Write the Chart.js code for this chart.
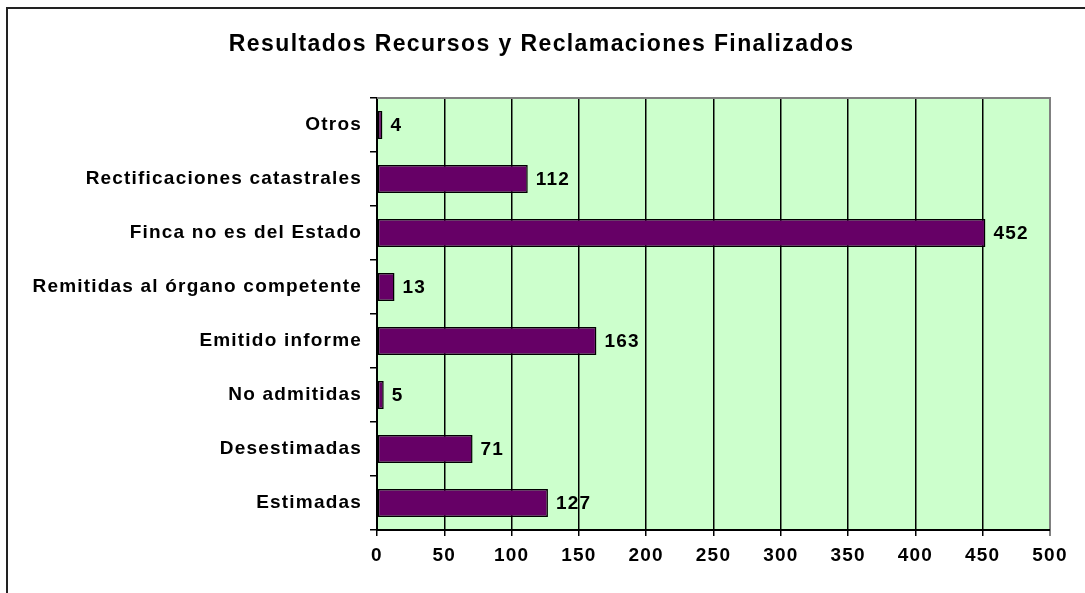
<!DOCTYPE html>
<html><head><meta charset="utf-8">
<script src="https://cdn.jsdelivr.net/npm/chart.js@4.4.1/dist/chart.umd.min.js"></script>
<style>html,body{margin:0;padding:0;background:#fff;}#wrap{width:1085px;height:593px;}</style>
</head><body><div id="wrap"><canvas id="c" width="1085" height="593"></canvas></div>
<script>
const categories = ["Otros","Rectificaciones catastrales","Finca no es del Estado","Remitidas al órgano competente","Emitido informe","No admitidas","Desestimadas","Estimadas"];
const values = [4,112,452,13,163,5,71,127];
const titleText = "Resultados Recursos y Reclamaciones Finalizados";
const xMin = 0, xMax = 500, xStep = 50;

const FONT = "'Liberation Sans', Arial, sans-serif";
const LS_TEXT = '1.2px';
const LS_TITLE = '1.4px';

const framePlugin = {
  id: 'frame',
  beforeDraw(chart) {
    const ctx = chart.ctx;
    const a = chart.chartArea;
    ctx.save();
    ctx.fillStyle = '#CCFFCC';
    ctx.fillRect(a.left, a.top, a.right - a.left, a.bottom - a.top);
    ctx.letterSpacing = LS_TITLE;
    ctx.font = 'bold 23px ' + FONT;
    ctx.fillStyle = '#000';
    ctx.textAlign = 'center';
    ctx.textBaseline = 'middle';
    ctx.fillText(titleText, 541 + 0.7, 45);
    ctx.restore();
    ctx.letterSpacing = LS_TEXT;
  },
  afterDraw(chart) {
    const ctx = chart.ctx;
    const a = chart.chartArea;
    ctx.save();
    ctx.strokeStyle = '#808080';
    ctx.lineWidth = 2;
    ctx.beginPath();
    ctx.moveTo(a.left, a.top); ctx.lineTo(a.right + 1, a.top);
    ctx.stroke();
    ctx.strokeStyle = '#222';
    ctx.lineWidth = 2;
    ctx.strokeRect(7, 8, 1200, 700);
    ctx.restore();
  }
};

const labelPlugin = {
  id: 'vlabels',
  afterDatasetsDraw(chart) {
    const ctx = chart.ctx;
    const meta = chart.getDatasetMeta(0);
    ctx.save();
    ctx.letterSpacing = LS_TEXT;
    ctx.font = 'bold 19px ' + FONT;
    ctx.fillStyle = '#000';
    ctx.textAlign = 'left';
    ctx.textBaseline = 'middle';
    meta.data.forEach((el, i) => {
      ctx.fillText(String(values[i]), el.x + 8, el.y + 1);
    });
    ctx.restore();
  }
};

new Chart(document.getElementById('c'), {
  type: 'bar',
  data: {
    labels: categories,
    datasets: [{
      data: values,
      backgroundColor: '#660066',
      borderColor: '#000000',
      borderWidth: 1.5,
      borderSkipped: false,
      categoryPercentage: 1,
      barPercentage: 0.52
    }]
  },
  options: {
    indexAxis: 'y',
    responsive: false,
    animation: false,
    devicePixelRatio: 1,
    layout: { padding: { left: 0, right: 35, top: 98, bottom: 0 } },
    plugins: {
      legend: { display: false },
      tooltip: { enabled: false },
      title: { display: false }
    },
    scales: {
      x: {
        min: xMin, max: xMax,
        ticks: { stepSize: xStep, color: '#000', font: { family: FONT, size: 19, weight: 'bold' }, padding: 8 },
        grid: {
          color: (c) => c.tick && c.tick.value === xMax ? '#808080' : '#000',
          lineWidth: (c) => c.tick && c.tick.value === xMax ? 2 : 1.5,
          tickLength: 6,
          drawTicks: true
        },
        border: { color: '#000', width: 2 },
        afterFit(s) { s.height = 63; }
      },
      y: {
        ticks: { color: '#000', font: { family: FONT, size: 19, weight: 'bold' }, padding: 8 },
        grid: { offset: true, drawOnChartArea: false, tickLength: 7, color: '#000', lineWidth: 1.5 },
        border: { color: '#000', width: 2 },
        afterFit(s) { s.width = 377; }
      }
    }
  },
  plugins: [framePlugin, labelPlugin]
});
</script></body></html>
